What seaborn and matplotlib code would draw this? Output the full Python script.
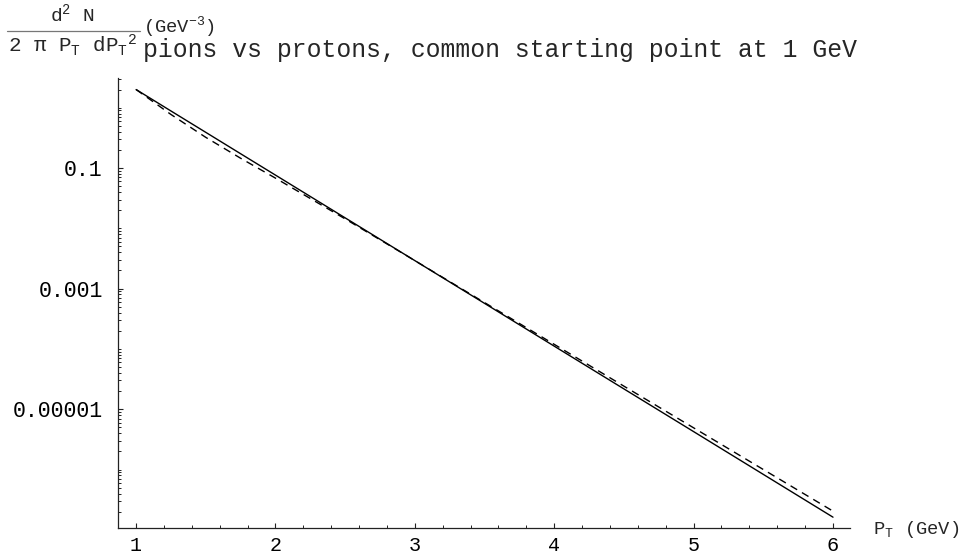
import numpy as np
import pandas as pd
import matplotlib
matplotlib.use("Agg")
import matplotlib.pyplot as plt
import seaborn as sns
from matplotlib.ticker import LogLocator, NullFormatter, MultipleLocator, FixedLocator, FixedFormatter
from matplotlib.lines import Line2D

# ---- data ----
pt_gev = [1.0, 1.25, 1.5, 1.75, 2.0, 2.5, 3.0, 3.5, 4.0, 4.5, 5.0, 5.5, 6.0]
pions = [2.0, 0.882, 0.390, 0.1723, 0.0762, 0.01489, 2.91e-3, 5.69e-4,
         1.11e-4, 2.17e-5, 4.25e-6, 8.30e-7, 1.62e-7]
protons = [2.0, 0.772, 0.322, 0.1450, 0.0679, 0.01432, 2.91e-3, 5.86e-4,
           1.19e-4, 2.41e-5, 4.91e-6, 1.0e-6, 2.04e-7]
xtick_vals = [1, 2, 3, 4, 5, 6]
xtick_labels = ["1", "2", "3", "4", "5", "6"]
ytick_vals = [0.1, 0.001, 0.00001]
ytick_labels = ["0.1", "0.001", "0.00001"]
title_text = "pions vs protons, common starting point at 1 GeV"

sns.set_style("white")
plt.rcParams["font.family"] = ["Liberation Mono", "DejaVu Sans"]
plt.rcParams["mathtext.fontset"] = "custom"
plt.rcParams["mathtext.rm"] = "Liberation Mono"
plt.rcParams["mathtext.it"] = "Liberation Mono"
plt.rcParams["mathtext.bf"] = "Liberation Mono:bold"
plt.rcParams["mathtext.default"] = "rm"

n = len(pt_gev)
df = pd.DataFrame({
    "pt": pt_gev + pt_gev,
    "val": pions + protons,
    "species": ["pions"] * n + ["protons"] * n,
})

fig = plt.figure(figsize=(9.63, 5.59), dpi=100)
ax = fig.add_axes([118 / 963, 1 - 528 / 559, (850 - 118) / 963, (528 - 78) / 559])

sns.lineplot(data=df, x="pt", y="val", style="species",
             dashes={"pions": "", "protons": (5.5, 4)},
             color="black", linewidth=1.0, legend=False, ax=ax)

ax.set_yscale("log")
ax.set_xlim(0.870, 6.122)
ax.set_ylim(10 ** -6.970, 10 ** 0.4925)

for s in ["top", "right"]:
    ax.spines[s].set_visible(False)
for s in ["left", "bottom"]:
    ax.spines[s].set_color("#222222")
    ax.spines[s].set_linewidth(0.9)

ax.xaxis.set_major_locator(FixedLocator(xtick_vals))
ax.xaxis.set_major_formatter(FixedFormatter(xtick_labels))
ax.xaxis.set_minor_locator(MultipleLocator(0.2))
ax.yaxis.set_major_locator(FixedLocator(ytick_vals))
ax.yaxis.set_major_formatter(FixedFormatter(ytick_labels))
ax.yaxis.set_minor_locator(LogLocator(base=10, subs=np.arange(1, 10), numticks=100))
ax.yaxis.set_minor_formatter(NullFormatter())

ax.tick_params(axis="both", which="both", bottom=True, left=True, top=False, right=False)
ax.tick_params(axis="both", which="major", direction="in", length=3.6, width=0.8,
               color="#222222", labelcolor="black")
ax.tick_params(axis="both", which="minor", direction="in", length=2.0, width=0.7,
               color="#222222")
ax.tick_params(axis="x", which="major", pad=6, labelsize=14.5)
ax.tick_params(axis="y", which="major", pad=11, labelsize=15.5)
ax.set_xlabel("")
ax.set_ylabel("")

# y-axis label as a fraction (Mathematica style)
fig.text(72 / 963, 1 - 14 / 559, r"d$^{2}$ N", ha="center", va="center", fontsize=14)
fig.add_artist(Line2D([7 / 963, 140 / 963], [1 - 31 / 559, 1 - 31 / 559],
                      color="#777777", lw=0.9, transform=fig.transFigure))
fig.text(73 / 963, 1 - 45 / 559, r"2 π P$_{T}$ dP$_{T}{}^{2}$", ha="center", va="center", fontsize=15)
fig.text(143 / 963, 1 - 27 / 559, r"(GeV$^{-3}$)", ha="left", va="center", fontsize=13.5)

# title
fig.text(143 / 963, 1 - 50 / 559, title_text, ha="left", va="center", fontsize=17.8)

# x-axis label
fig.text(873 / 963, 1 - 530 / 559, r"P$_{T}$ (GeV)", ha="left", va="center", fontsize=13.5)

fig.savefig("out.png", dpi=100, facecolor="white")
